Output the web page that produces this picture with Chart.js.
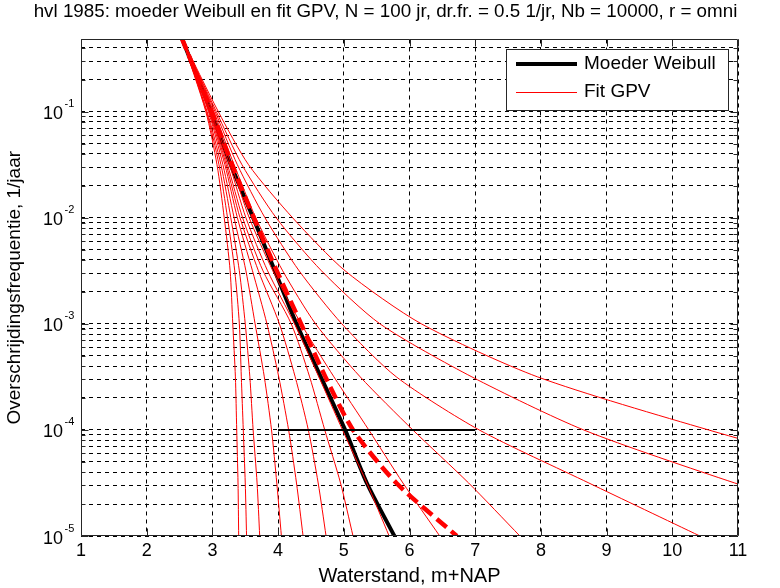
<!DOCTYPE html>
<html>
<head>
<meta charset="utf-8">
<script src="https://cdn.jsdelivr.net/npm/chart.js@4.4.1/dist/chart.umd.min.js"></script>
<style>
  html, body { margin: 0; padding: 0; background: #fff; }
  #wrap { width: 780px; height: 588px; }
</style>
</head>
<body>
<div id="wrap"><canvas id="c" width="780" height="588"></canvas></div>
<script>
// Exceedance frequency levels (1/jaar) at which every curve is sampled
const freqLevels = [0.5, 1e-1, 3.16e-2, 1e-2, 3.16e-3, 1e-3, 3.16e-4, 1e-4, 3.16e-5, 1e-5];

// Water levels (m+NAP) of each curve at those frequencies
const moederWeibull = [2.53, 2.98, 3.28, 3.62, 3.95, 4.28, 4.65, 5.02, 5.35, 5.77];
const fitGPVmain    = [2.53, 2.99, 3.30, 3.63, 3.98, 4.35, 4.72, 5.14, 5.80, 6.72];
const fitGPV01 = [2.53, 2.90, 3.07, 3.18, 3.27, 3.31, 3.35, 3.37, 3.39, 3.40];
const fitGPV02 = [2.53, 2.91, 3.10, 3.23, 3.34, 3.41, 3.44, 3.47, 3.50, 3.52];
const fitGPV03 = [2.53, 2.92, 3.13, 3.28, 3.41, 3.50, 3.57, 3.62, 3.68, 3.72];
const fitGPV04 = [2.53, 2.94, 3.16, 3.33, 3.51, 3.65, 3.79, 3.90, 3.98, 4.05];
const fitGPV05 = [2.53, 2.95, 3.19, 3.38, 3.61, 3.83, 4.01, 4.16, 4.28, 4.38];
const fitGPV06 = [2.53, 2.96, 3.21, 3.42, 3.70, 4.02, 4.26, 4.46, 4.61, 4.73];
const fitGPV07 = [2.53, 2.97, 3.23, 3.46, 3.77, 4.20, 4.48, 4.71, 4.95, 5.14];
const fitGPV08 = [2.53, 2.98, 3.26, 3.51, 3.84, 4.25, 4.62, 4.98, 5.35, 5.69];
const fitGPV09 = [2.53, 3.00, 3.29, 3.56, 3.92, 4.35, 4.85, 5.38, 5.90, 6.46];
const fitGPV10 = [2.53, 3.02, 3.33, 3.66, 4.07, 4.57, 5.25, 6.05, 6.90, 7.68];
const fitGPV11 = [2.53, 3.04, 3.38, 3.80, 4.32, 4.97, 5.80, 7.06, 8.73, 10.42];
const fitGPV12 = [2.53, 3.06, 3.45, 3.97, 4.66, 5.55, 6.95, 8.65, 10.95, 13.50];
const fitGPV13 = [2.53, 3.09, 3.55, 4.22, 5.02, 6.18, 7.95, 10.55, 13.50, 17.00];
const fitGPVset = [fitGPV01, fitGPV02, fitGPV03, fitGPV04, fitGPV05, fitGPV06, fitGPV07,
                   fitGPV08, fitGPV09, fitGPV10, fitGPV11, fitGPV12, fitGPV13];

// Reference level marker: frequency 1e-4 between 4 and 7 m+NAP
const refLineX = [4, 7];
const refLineFreq = [1e-4, 1e-4];

// Axes
const xTicks = [1, 2, 3, 4, 5, 6, 7, 8, 9, 10, 11];
const yDecades = [1e-5, 1e-4, 1e-3, 1e-2, 1e-1];
const yMinorSteps = [2, 3, 4, 5, 6, 7, 8, 9];
const yMin = 1e-5, yMax = 0.479;

const titleText = 'hvl 1985: moeder Weibull en fit GPV, N = 100 jr, dr.fr. = 0.5 1/jr, Nb = 10000, r = omni';
const xTitle = 'Waterstand, m+NAP';
const yTitle = 'Overschrijdingsfrequentie, 1/jaar';
const legendLabels = ['Moeder Weibull', 'Fit GPV'];

const FONT = "'Liberation Sans', Arial, Helvetica, sans-serif";

function toPoints(xs, fs) {
  return xs.map((x, i) => ({ x: x, y: fs[i] }));
}

const yTickValues = [];
yDecades.forEach(d => {
  yTickValues.push(d);
  yMinorSteps.forEach(m => { const v = d * m; if (v <= yMax) yTickValues.push(v); });
});

const datasets = [];
datasets.push({
  label: 'ref', data: toPoints(refLineX, refLineFreq),
  borderColor: '#000', borderWidth: 2, order: 0
});
datasets.push({
  label: 'fit main', data: toPoints(fitGPVmain, freqLevels),
  borderColor: '#ff0000', borderWidth: 4.5, borderDash: [13, 6], order: 1
});
fitGPVset.forEach((s, i) => datasets.push({
  label: legendLabels[1] + ' ' + (i + 1), data: toPoints(s, freqLevels),
  borderColor: '#ff0000', borderWidth: 1, order: 2
}));
datasets.push({
  label: legendLabels[0], data: toPoints(moederWeibull, freqLevels),
  borderColor: '#000', borderWidth: 4, order: 3
});
datasets.forEach(d => {
  d.showLine = true; d.pointRadius = 0; d.pointHoverRadius = 0;
  d.tension = 0.25; d.clip = 0; d.fill = false;
});

// Box, inward ticks, superscript decade labels and the in-axes legend
const matlabAxes = {
  id: 'matlabAxes',
  afterDraw(chart) {
    const ctx = chart.ctx;
    const a = chart.chartArea;
    const xs = chart.scales.x, ys = chart.scales.y;
    ctx.save();
    ctx.strokeStyle = '#262626';
    ctx.lineWidth = 1;
    ctx.setLineDash([]);
    const L = Math.round(a.left) + 0.5, R = Math.round(a.right) - 0.5;
    const T = Math.round(a.top) + 0.5, B = Math.round(a.bottom) - 0.5;
    ctx.beginPath();
    ctx.rect(L, T, R - L, B - T);
    ctx.stroke();
    ctx.beginPath();
    xTicks.forEach(v => {
      const px = Math.round(xs.getPixelForValue(v)) + 0.5;
      ctx.moveTo(px, B); ctx.lineTo(px, B - 7);
      ctx.moveTo(px, T); ctx.lineTo(px, T + 7);
    });
    yTickValues.forEach(v => {
      const py = Math.round(ys.getPixelForValue(v)) + 0.5;
      const len = yDecades.includes(v) ? 7 : 4;
      ctx.moveTo(L, py); ctx.lineTo(L + len, py);
      ctx.moveTo(R, py); ctx.lineTo(R - len, py);
    });
    ctx.stroke();

    // decade labels 10^n
    ctx.fillStyle = '#000';
    yDecades.forEach(d => {
      const py = ys.getPixelForValue(d);
      const e = Math.round(Math.log10(d));
      ctx.font = '18px ' + FONT;
      ctx.textAlign = 'right';
      ctx.textBaseline = 'alphabetic';
      ctx.fillText('10', 63, py + 7.5);
      ctx.font = '11px ' + FONT;
      ctx.textAlign = 'left';
      ctx.fillText(String(e), 64.5, py - 4.5);
    });

    // legend
    const lx = 506.5, ly = 49.5, lw = 222, lh = 61;
    ctx.fillStyle = '#fff';
    ctx.fillRect(lx, ly, lw, lh);
    ctx.strokeStyle = '#262626';
    ctx.lineWidth = 1;
    ctx.strokeRect(lx, ly, lw, lh);
    ctx.beginPath();
    ctx.strokeStyle = '#000'; ctx.lineWidth = 4;
    ctx.moveTo(516, 64); ctx.lineTo(577, 64); ctx.stroke();
    ctx.beginPath();
    ctx.strokeStyle = '#ff0000'; ctx.lineWidth = 1;
    ctx.moveTo(516, 92.5); ctx.lineTo(577, 92.5); ctx.stroke();
    ctx.fillStyle = '#000';
    ctx.font = '19px ' + FONT;
    ctx.textAlign = 'left';
    ctx.textBaseline = 'middle';
    ctx.fillText(legendLabels[0], 584, 64);
    ctx.fillText(legendLabels[1], 584, 92);
    ctx.restore();
  }
};

new Chart(document.getElementById('c'), {
  type: 'scatter',
  data: { datasets: datasets },
  plugins: [matlabAxes],
  options: {
    responsive: false,
    animation: false,
    devicePixelRatio: 1,
    layout: { padding: { left: 0, right: 9, top: 0, bottom: 0 } },
    plugins: {
      legend: { display: false },
      tooltip: { enabled: false },
      title: {
        display: true, text: titleText, color: '#000',
        font: { family: FONT, size: 18.8, weight: 'normal', lineHeight: 1.2 },
        padding: { top: 0.5, bottom: 16.4 }
      }
    },
    scales: {
      x: {
        type: 'linear', min: 1, max: 11,
        afterBuildTicks: s => { s.ticks = xTicks.map(v => ({ value: v })); },
        afterFit: s => { s.height = 52; },
        ticks: { color: '#000', font: { family: FONT, size: 18 }, padding: 4, autoSkip: false, maxRotation: 0 },
        grid: { color: '#000', lineWidth: 1, drawTicks: false },
        border: { display: false, dash: [4, 4] },
        title: { display: true, text: xTitle, color: '#000', font: { family: FONT, size: 20 }, padding: { top: 0, bottom: 0 } }
      },
      y: {
        type: 'logarithmic', min: yMin, max: yMax, position: 'left',
        afterBuildTicks: s => { s.ticks = yTickValues.map(v => ({ value: v })); },
        afterFit: s => { s.width = 81; },
        ticks: { display: false, autoSkip: false },
        grid: { color: '#000', lineWidth: 1, drawTicks: false },
        border: { display: false, dash: [4, 4] },
        title: { display: true, text: yTitle, color: '#000', font: { family: FONT, size: 19 }, padding: { top: 3, bottom: 0 } }
      },
      y2: {
        type: 'linear', position: 'right', min: 0, max: 1,
        afterFit: s => { s.width = 33; },
        ticks: { display: false },
        grid: { display: false, drawTicks: false },
        border: { display: false }
      }
    }
  }
});
</script>
</body>
</html>
